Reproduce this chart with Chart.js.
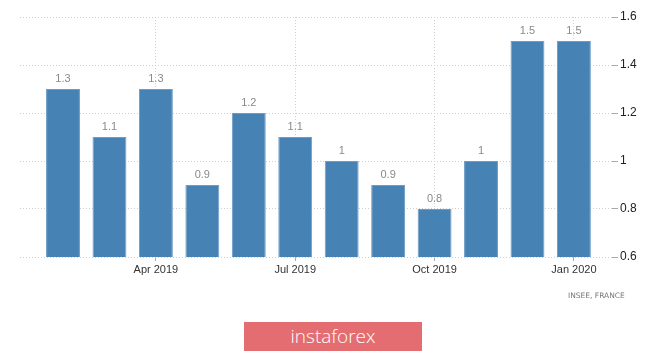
<!DOCTYPE html>
<html>
<head>
<meta charset="utf-8">
<script src="https://cdn.jsdelivr.net/npm/chart.js@4/dist/chart.umd.min.js"></script>
<style>
    html, body { margin: 0; padding: 0; background: #fff; }
    #wrap { position: relative; width: 665px; height: 353px; }
    #source {
        position: absolute; left: 568px; top: 291px;
        font: 7.5px "DejaVu Sans", sans-serif; color: #777;
    }
    #badge {
        position: absolute; left: 244px; top: 322px; width: 178px; height: 29px;
        background: #e36d70; color: #fff; text-align: center;
        font: 300 19px "Open Sans", sans-serif; line-height: 28px;
    }
</style>
</head>
<body>
<div id="wrap">
    <canvas id="chart" width="665" height="353"></canvas>
    <div id="source">INSEE, FRANCE</div>
    <div id="badge">instaforex</div>
</div>
<script>
// Data
const months = ['Feb 2019', 'Mar 2019', 'Apr 2019', 'May 2019', 'Jun 2019', 'Jul 2019',
                'Aug 2019', 'Sep 2019', 'Oct 2019', 'Nov 2019', 'Dec 2019', 'Jan 2020'];
const values = [1.3, 1.1, 1.3, 0.9, 1.2, 1.1, 1, 0.9, 0.8, 1, 1.5, 1.5];
const quarterMonths = ['Jan', 'Apr', 'Jul', 'Oct'];

const tickIdx = months
    .map((m, i) => quarterMonths.includes(m.slice(0, 3)) ? i : -1)
    .filter(i => i >= 0);

// value labels above bars
const valueLabels = {
    id: 'valueLabels',
    afterDatasetsDraw(chart) {
        const ctx = chart.ctx;
        const meta = chart.getDatasetMeta(0);
        ctx.save();
        ctx.font = '11px "Liberation Sans", Arial, sans-serif';
        ctx.fillStyle = '#8a8a8a';
        ctx.textAlign = 'center';
        ctx.textBaseline = 'bottom';
        meta.data.forEach((bar, i) => {
            ctx.fillText(String(values[i]), bar.x, bar.y - 5);
        });
        ctx.restore();
    }
};

new Chart(document.getElementById('chart'), {
    type: 'bar',
    data: {
        datasets: [{
            data: values.map((v, i) => ({ x: i, y: v })),
            backgroundColor: '#4682b4',
            borderColor: '#6f9cc4',
            borderWidth: 1,
            categoryPercentage: 1,
            barPercentage: 0.73
        }]
    },
    options: {
        responsive: false,
        animation: false,
        layout: { padding: { left: 20, top: 17, right: 0, bottom: 0 } },
        plugins: { legend: { display: false }, tooltip: { enabled: false } },
        scales: {
            x: {
                type: 'linear',
                offset: false,
                min: -0.926,
                max: 11.82,
                afterBuildTicks: s => { s.ticks = tickIdx.map(v => ({ value: v })); },
                afterFit: s => { s.height = 96; },
                ticks: {
                    autoSkip: false,
                    maxRotation: 0,
                    padding: 2,
                    color: '#333',
                    font: { family: '"Liberation Sans", Arial, sans-serif', size: 11 },
                    callback: v => months[v]
                },
                grid: {
                    offset: false,
                    color: '#cfcfcf',
                    tickLength: 4,
                    tickColor: '#aaa',
                    tickBorderDash: [1, 0]
                },
                border: { display: false, dash: [1, 2] }
            },
            y: {
                position: 'right',
                min: 0.6,
                max: 1.6,
                afterFit: s => { s.width = 53; },
                ticks: {
                    stepSize: 0.2,
                    padding: 2,
                    color: '#222',
                    font: { family: '"Liberation Sans", Arial, sans-serif', size: 12 },
                    callback: v => String(+v.toFixed(1))
                },
                grid: {
                    color: '#cfcfcf',
                    tickLength: 6,
                    tickColor: '#aaa',
                    tickBorderDash: [1, 0]
                },
                border: { display: false, dash: [1, 2] }
            }
        }
    },
    plugins: [valueLabels]
});
</script>
</body>
</html>
